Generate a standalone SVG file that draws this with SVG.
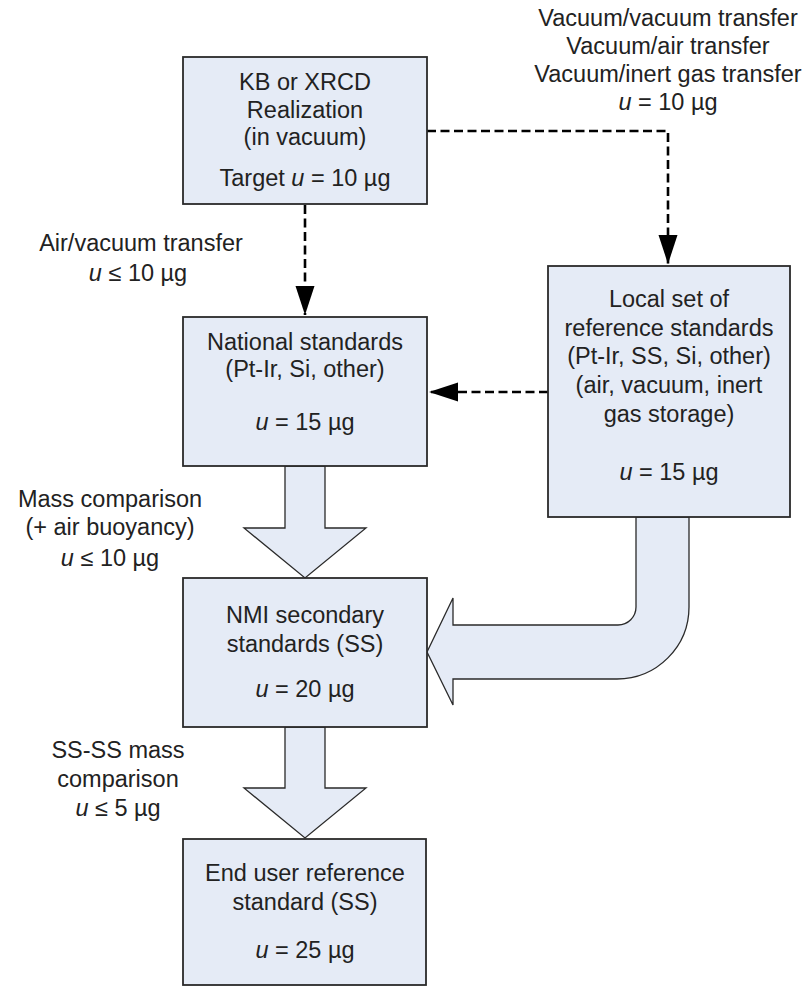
<svg xmlns="http://www.w3.org/2000/svg" width="808" height="986" viewBox="0 0 808 986">
<style>
.box{fill:#E5EBF6;stroke:#2a2a2a;stroke-width:1.8}
.blk{fill:#E5EBF6;stroke:#2a2a2a;stroke-width:1.3;stroke-linejoin:miter}
.dash{fill:none;stroke:#000;stroke-width:2.6;stroke-dasharray:9 4.5}
text{font-family:"Liberation Sans",Arial,sans-serif;font-size:23.5px;fill:#222;text-anchor:middle}
.i{font-style:italic}
</style>
<defs>
<marker id="ah" markerUnits="userSpaceOnUse" markerWidth="30" markerHeight="20" refX="29" refY="9.5" orient="auto">
<path d="M0,0 L29,9.5 L0,19 z" fill="#000"/>
</marker>
</defs>
<rect width="808" height="986" fill="#fff"/>
<g id="connectors">
<path class="dash" d="M305,205 V315" marker-end="url(#ah)"/>
<path class="dash" d="M427,131 H668 V264" marker-end="url(#ah)"/>
<path class="dash" d="M548,392 H429" marker-end="url(#ah)"/>
<path id="blk1" class="blk" d="M285,466 H325 V528 H366 L305,578 L244,528 H285 Z"/>
<path id="blk2" class="blk" d="M285,727 H325 V788 H366 L305,838 L244,788 H285 Z"/>
<path id="blk3" class="blk" d="M636,517 V607 A18,18 0 0 1 618,625 H453 V598 L427,652 L453,705 V679 H617 A72,72 0 0 0 689,607 V517 Z"/>
</g>
<g id="lbl-top">
<text x="668" y="26">Vacuum/vacuum transfer</text>
<text x="668" y="54">Vacuum/air transfer</text>
<text x="668" y="82">Vacuum/inert gas transfer</text>
<text x="668" y="110"><tspan class="i">u</tspan> = 10 µg</text>
</g>
<g id="lbl-air">
<text x="141" y="251">Air/vacuum transfer</text>
<text x="138" y="281"><tspan class="i">u</tspan> ≤ 10 µg</text>
</g>
<g id="lbl-mass">
<text x="110" y="507">Mass comparison</text>
<text x="110" y="535">(+ air buoyancy)</text>
<text x="110" y="566"><tspan class="i">u</tspan> ≤ 10 µg</text>
</g>
<g id="lbl-ss">
<text x="118" y="758">SS-SS mass</text>
<text x="118" y="787">comparison</text>
<text x="118" y="816"><tspan class="i">u</tspan> ≤ 5 µg</text>
</g>
<g id="kb">
<rect class="box" x="183" y="57" width="244" height="147"/>
<text x="305" y="90">KB or XRCD</text>
<text x="305" y="118">Realization</text>
<text x="305" y="145">(in vacuum)</text>
<text x="305" y="186">Target <tspan class="i">u</tspan> = 10 µg</text>
</g>
<g id="national">
<rect class="box" x="183" y="317" width="244" height="149"/>
<text x="305" y="350">National standards</text>
<text x="305" y="377">(Pt-Ir, Si, other)</text>
<text x="305" y="430"><tspan class="i">u</tspan> = 15 µg</text>
</g>
<g id="local">
<rect class="box" x="548" y="266" width="242" height="251"/>
<text x="669" y="307">Local set of</text>
<text x="669" y="336">reference standards</text>
<text x="669" y="364">(Pt-Ir, SS, Si, other)</text>
<text x="669" y="393">(air, vacuum, inert</text>
<text x="669" y="422">gas storage)</text>
<text x="669" y="480"><tspan class="i">u</tspan> = 15 µg</text>
</g>
<g id="nmi">
<rect class="box" x="183" y="578" width="244" height="149"/>
<text x="305" y="623">NMI secondary</text>
<text x="305" y="652">standards (SS)</text>
<text x="305" y="697"><tspan class="i">u</tspan> = 20 µg</text>
</g>
<g id="enduser">
<rect class="box" x="183" y="839" width="243" height="146"/>
<text x="305" y="881">End user reference</text>
<text x="305" y="910">standard  (SS)</text>
<text x="305" y="958"><tspan class="i">u</tspan> = 25 µg</text>
</g>
</svg>
